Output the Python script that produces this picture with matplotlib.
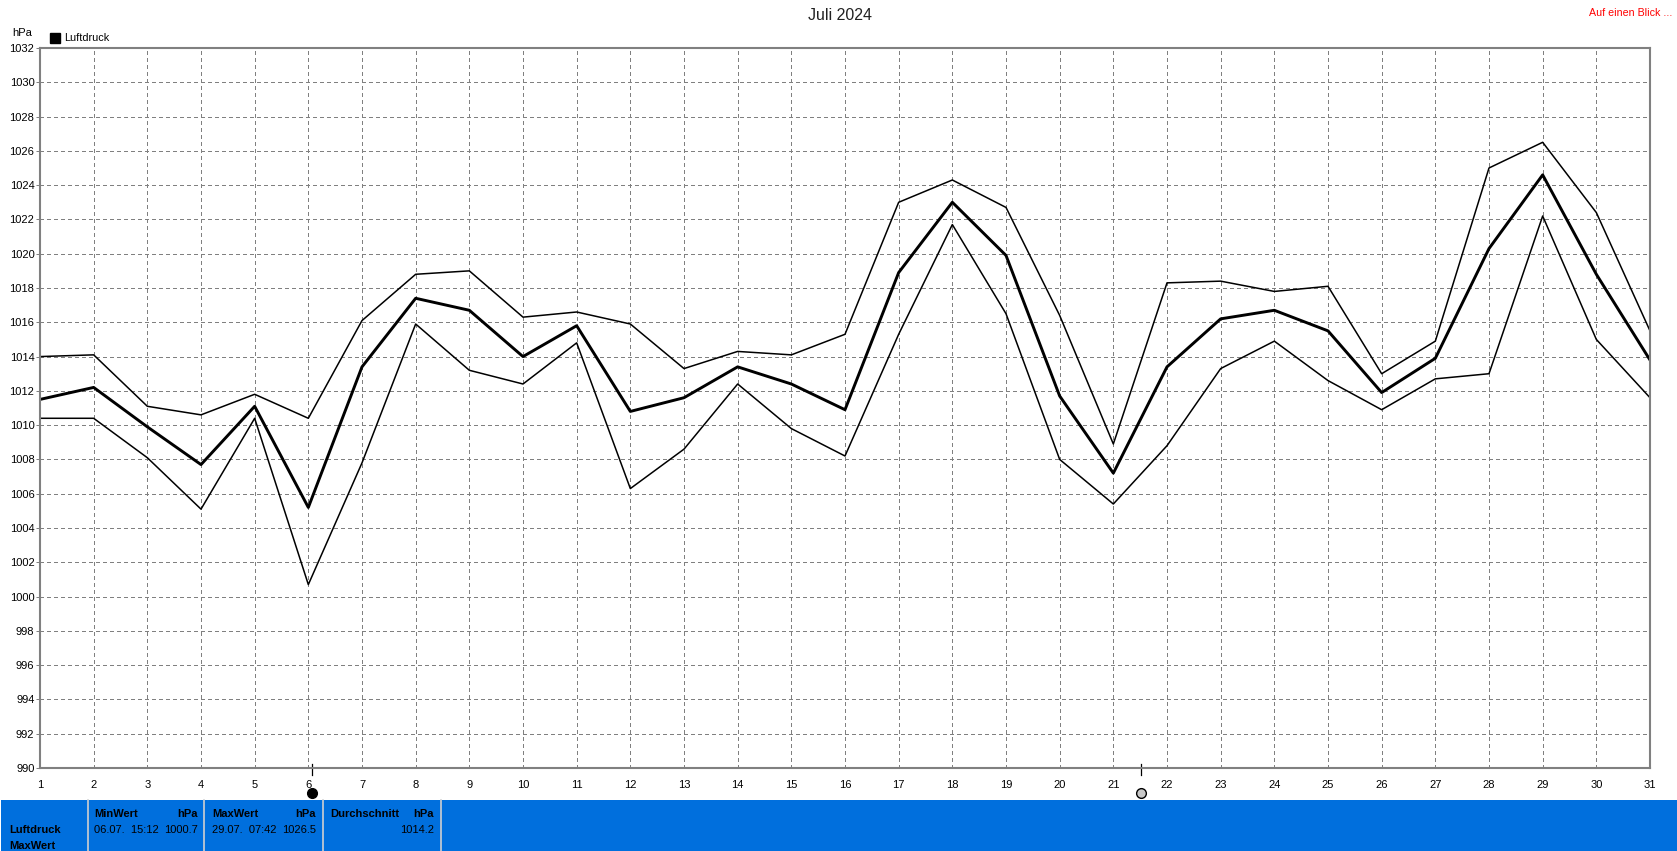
import matplotlib
matplotlib.use('Agg')
import matplotlib.pyplot as plt
from matplotlib.patches import Rectangle

plt.rcParams['font.family'] = ['Liberation Sans', 'DejaVu Sans']

W, H = 1677, 851
GREY = '#808080'
BLUE = '#006FDD'

days = list(range(1, 32))
p_max = [1014.0, 1014.1, 1011.1, 1010.6, 1011.8, 1010.4, 1016.1, 1018.8, 1019.0, 1016.3, 1016.6,
         1015.9, 1013.3, 1014.3, 1014.1, 1015.3, 1023.0, 1024.3, 1022.7, 1016.4, 1008.9,
         1018.3, 1018.4, 1017.8, 1018.1, 1013.0, 1014.9, 1025.0, 1026.5, 1022.4, 1015.5]
p_mean = [1011.5, 1012.2, 1009.9, 1007.7, 1011.1, 1005.2, 1013.4, 1017.4, 1016.7, 1014.0, 1015.8,
          1010.8, 1011.6, 1013.4, 1012.4, 1010.9, 1018.9, 1023.0, 1019.9, 1011.7, 1007.2,
          1013.4, 1016.2, 1016.7, 1015.5, 1011.9, 1013.9, 1020.3, 1024.6, 1018.8, 1013.8]
p_min = [1010.4, 1010.4, 1008.1, 1005.1, 1010.4, 1000.7, 1007.8, 1015.9, 1013.2, 1012.4, 1014.8,
         1006.3, 1008.6, 1012.4, 1009.8, 1008.2, 1015.3, 1021.7, 1016.5, 1008.0, 1005.4,
         1008.8, 1013.3, 1014.9, 1012.6, 1010.9, 1012.7, 1013.0, 1022.2, 1015.0, 1011.6]
y_ticks = list(range(990, 1033, 2))

# moon phases: day position, marker fill
moon_days = [6.06, 21.52]
moon_fill = ['black', '#c8c8c8']

fig = plt.figure(figsize=(W / 100, H / 100), dpi=100, facecolor='white')

# overlay in pixel coordinates for the text and the bottom panel
px = fig.add_axes([0, 0, 1, 1])
px.set_xlim(0, W)
px.set_ylim(H, 0)
px.axis('off')

ax = fig.add_axes([40 / W, 1 - 768 / H, 1610 / W, 720 / H])
ax.patch.set_alpha(0)
ax.plot(days, p_max, color='black', lw=1.1)
ax.plot(days, p_min, color='black', lw=1.1)
ax.plot(days, p_mean, color='black', lw=2.1)

ax.set_xlim(1, 31)
ax.set_ylim(990, 1032)
ax.set_xticks(days)
ax.set_yticks(y_ticks)
ax.grid(True, color=GREY, linestyle=(0, (4, 3)), lw=0.72, antialiased=False)
ax.set_axisbelow(True)
ax.tick_params(axis='y', length=3, width=0.72, color=GREY, labelsize=8, pad=1)
ax.tick_params(axis='x', length=0, labelsize=8, pad=9)
for s in ax.spines.values():
    s.set_color(GREY)
    s.set_linewidth(1.5)

trans = ax.get_xaxis_transform()
for md, fill in zip(moon_days, moon_fill):
    ax.plot([md, md], [-0.0097, 0.0056], color='black', lw=0.9, transform=trans, clip_on=False)
    ax.plot([md], [-0.0347], marker='o', ms=7, mfc=fill, mec='black', mew=1,
            transform=trans, clip_on=False)

px.text(840, 15, 'Juli 2024', ha='center', va='center', fontsize=11.5, color='#222222')
px.text(1672, 13, 'Auf einen Blick ...', ha='right', va='center', fontsize=7.7, color='red')
px.text(12, 33, 'hPa', ha='left', va='center', fontsize=8)
px.add_patch(Rectangle((50, 33), 10, 9.5, color='black'))
px.text(64, 38, 'Luftdruck', ha='left', va='center', fontsize=7.8)

# bottom panel
px.add_patch(Rectangle((1, 800), W, 51, color=BLUE, lw=0))
for x in [88, 204, 323, 441]:
    px.plot([x, x], [800, 851], color='#d0d0d0', lw=1.2)

px.text(9, 830, 'Luftdruck', ha='left', va='center', fontsize=8, fontweight='bold')
px.text(9, 846, 'MaxWert', ha='left', va='center', fontsize=8, fontweight='bold', clip_on=True)
px.text(94, 814, 'MinWert', ha='left', va='center', fontsize=8, fontweight='bold')
px.text(198, 814, 'hPa', ha='right', va='center', fontsize=8, fontweight='bold')
px.text(94, 830, '06.07.  15:12', ha='left', va='center', fontsize=8)
px.text(198, 830, '1000.7', ha='right', va='center', fontsize=8)
px.text(212, 814, 'MaxWert', ha='left', va='center', fontsize=8, fontweight='bold')
px.text(316, 814, 'hPa', ha='right', va='center', fontsize=8, fontweight='bold')
px.text(212, 830, '29.07.  07:42', ha='left', va='center', fontsize=8)
px.text(316, 830, '1026.5', ha='right', va='center', fontsize=8)
px.text(330, 814, 'Durchschnitt', ha='left', va='center', fontsize=8, fontweight='bold')
px.text(434, 814, 'hPa', ha='right', va='center', fontsize=8, fontweight='bold')
px.text(434, 830, '1014.2', ha='right', va='center', fontsize=8)

fig.savefig('out.png', dpi=100)
